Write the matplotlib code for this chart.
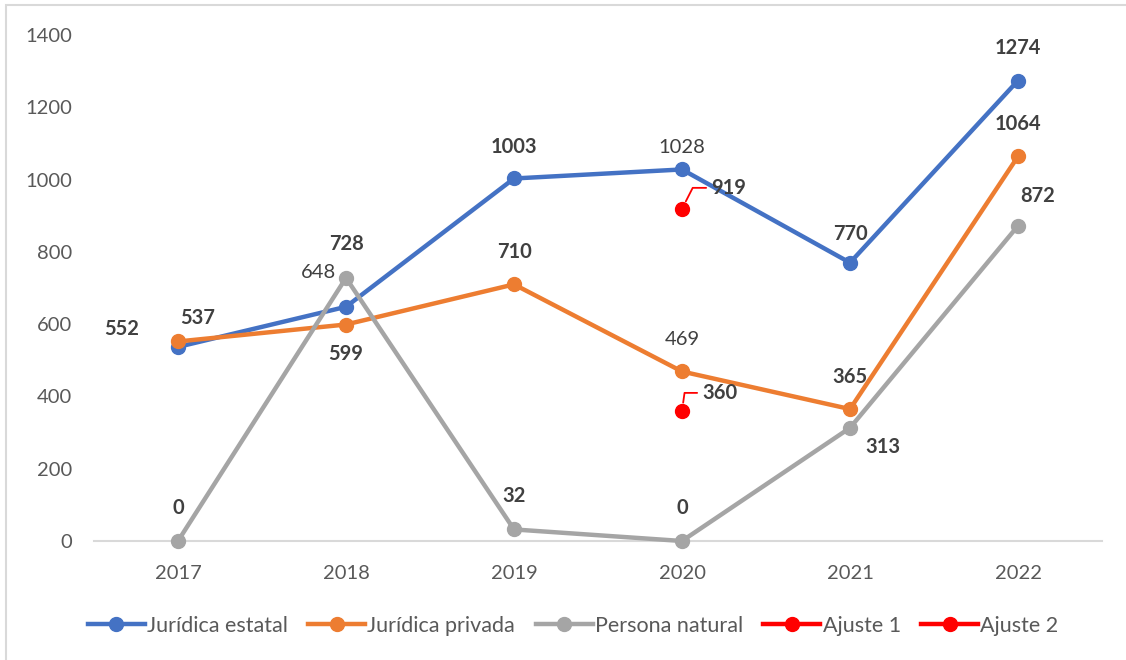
import matplotlib.pyplot as plt
from matplotlib.patches import Rectangle

years = ['2017', '2018', '2019', '2020', '2021', '2022']
estatal = [537, 648, 1003, 1028, 770, 1274]
privada = [552, 599, 710, 469, 365, 1064]
natural = [0, 728, 32, 0, 313, 872]
ajuste_1 = 919
ajuste_2 = 360
ajuste_year = 3  # index of 2020

# label offsets in pixels (dx, dy) and weight for each series point
estatal_lbl = [(20, 29, 'bold'), (-28, 34, 'normal'), (0, 31, 'bold'),
               (0, 22, 'normal'), (0, 29, 'bold'), (0, 33, 'bold')]
privada_lbl = [(-56, 12, 'bold'), (0, -29, 'bold'), (0, 32, 'bold'),
               (0, 32, 'normal'), (0, 32, 'bold'), (0, 32, 'bold')]
natural_lbl = [(0, 33, 'bold'), (0, 34, 'bold'), (0, 33, 'bold'),
               (0, 33, 'bold'), (33, -19, 'bold'), (20, 30, 'bold')]

plt.rcParams['font.family'] = ['Lato', 'DejaVu Sans']

fig = plt.figure(figsize=(11.26, 6.6), dpi=100)
ax = fig.add_axes([94 / 1126, 119 / 660, 1008 / 1126, 506 / 660])

# chart frame
fig.patches.append(Rectangle((6 / 1126, -0.1), 1.2, 1.1 - 5 / 660,
                             transform=fig.transFigure, fill=False,
                             edgecolor='#d9d9d9', lw=1.5))

x = list(range(len(years)))
series = [
    (estatal, '#4472c4', 'Jurídica estatal', estatal_lbl),
    (privada, '#ed7d31', 'Jurídica privada', privada_lbl),
    (natural, '#a5a5a5', 'Persona natural', natural_lbl),
]
for vals, col, name, lbls in series:
    ax.plot(x, vals, color=col, lw=3.2, marker='o', markersize=10,
            label=name, clip_on=False, zorder=3)

for vals, col, name, lbls in series:
    for i, v in enumerate(vals):
        dx, dy, w = lbls[i]
        ax.annotate(str(v), (x[i], v), xytext=(dx * 0.72, dy * 0.72),
                    textcoords='offset points', ha='center', va='center',
                    fontsize=14.5, fontweight=w, color='#404040', zorder=5)

# adjustment points with leader lines
for val, name, dx, dy, angB in [(ajuste_1, 'Ajuste 1', 29, 21, 63),
                                (ajuste_2, 'Ajuste 2', 20, 18, 82)]:
    ax.plot([ajuste_year], [val], color='#ff0000', lw=3.2, marker='o',
            markersize=10, label=name, zorder=4)
    ax.annotate(str(val), (ajuste_year, val), xytext=(dx * 0.72, dy * 0.72),
                textcoords='offset points', ha='left', va='center',
                fontsize=14.5, fontweight='bold', color='#404040',
                arrowprops=dict(arrowstyle='-', color='#ff0000', lw=1.3,
                                relpos=(0, 0.5), shrinkA=1.5, shrinkB=6,
                                connectionstyle=f'angle,angleA=0,angleB={angB},rad=0'))

ax.set_xlim(-0.5, len(years) - 0.5)
ax.set_ylim(0, 1400)
ax.set_yticks(range(0, 1401, 200))
ax.set_xticks(x)
ax.set_xticklabels(years)
ax.tick_params(axis='y', length=0, pad=16, labelsize=14.5, labelcolor='#595959')
ax.tick_params(axis='x', length=0, pad=17, labelsize=14.5, labelcolor='#595959')
for s in ['top', 'right', 'left']:
    ax.spines[s].set_visible(False)
ax.spines['bottom'].set_color('#d9d9d9')
ax.spines['bottom'].set_linewidth(1.5)

fig.legend(loc='center', bbox_to_anchor=(573 / 1126, 1 - 626 / 660), ncol=5,
           frameon=False, fontsize=15.5, labelcolor='#595959',
           handlelength=2.65, handletextpad=0.1, columnspacing=0.95)

fig.savefig('out.png', dpi=100)
